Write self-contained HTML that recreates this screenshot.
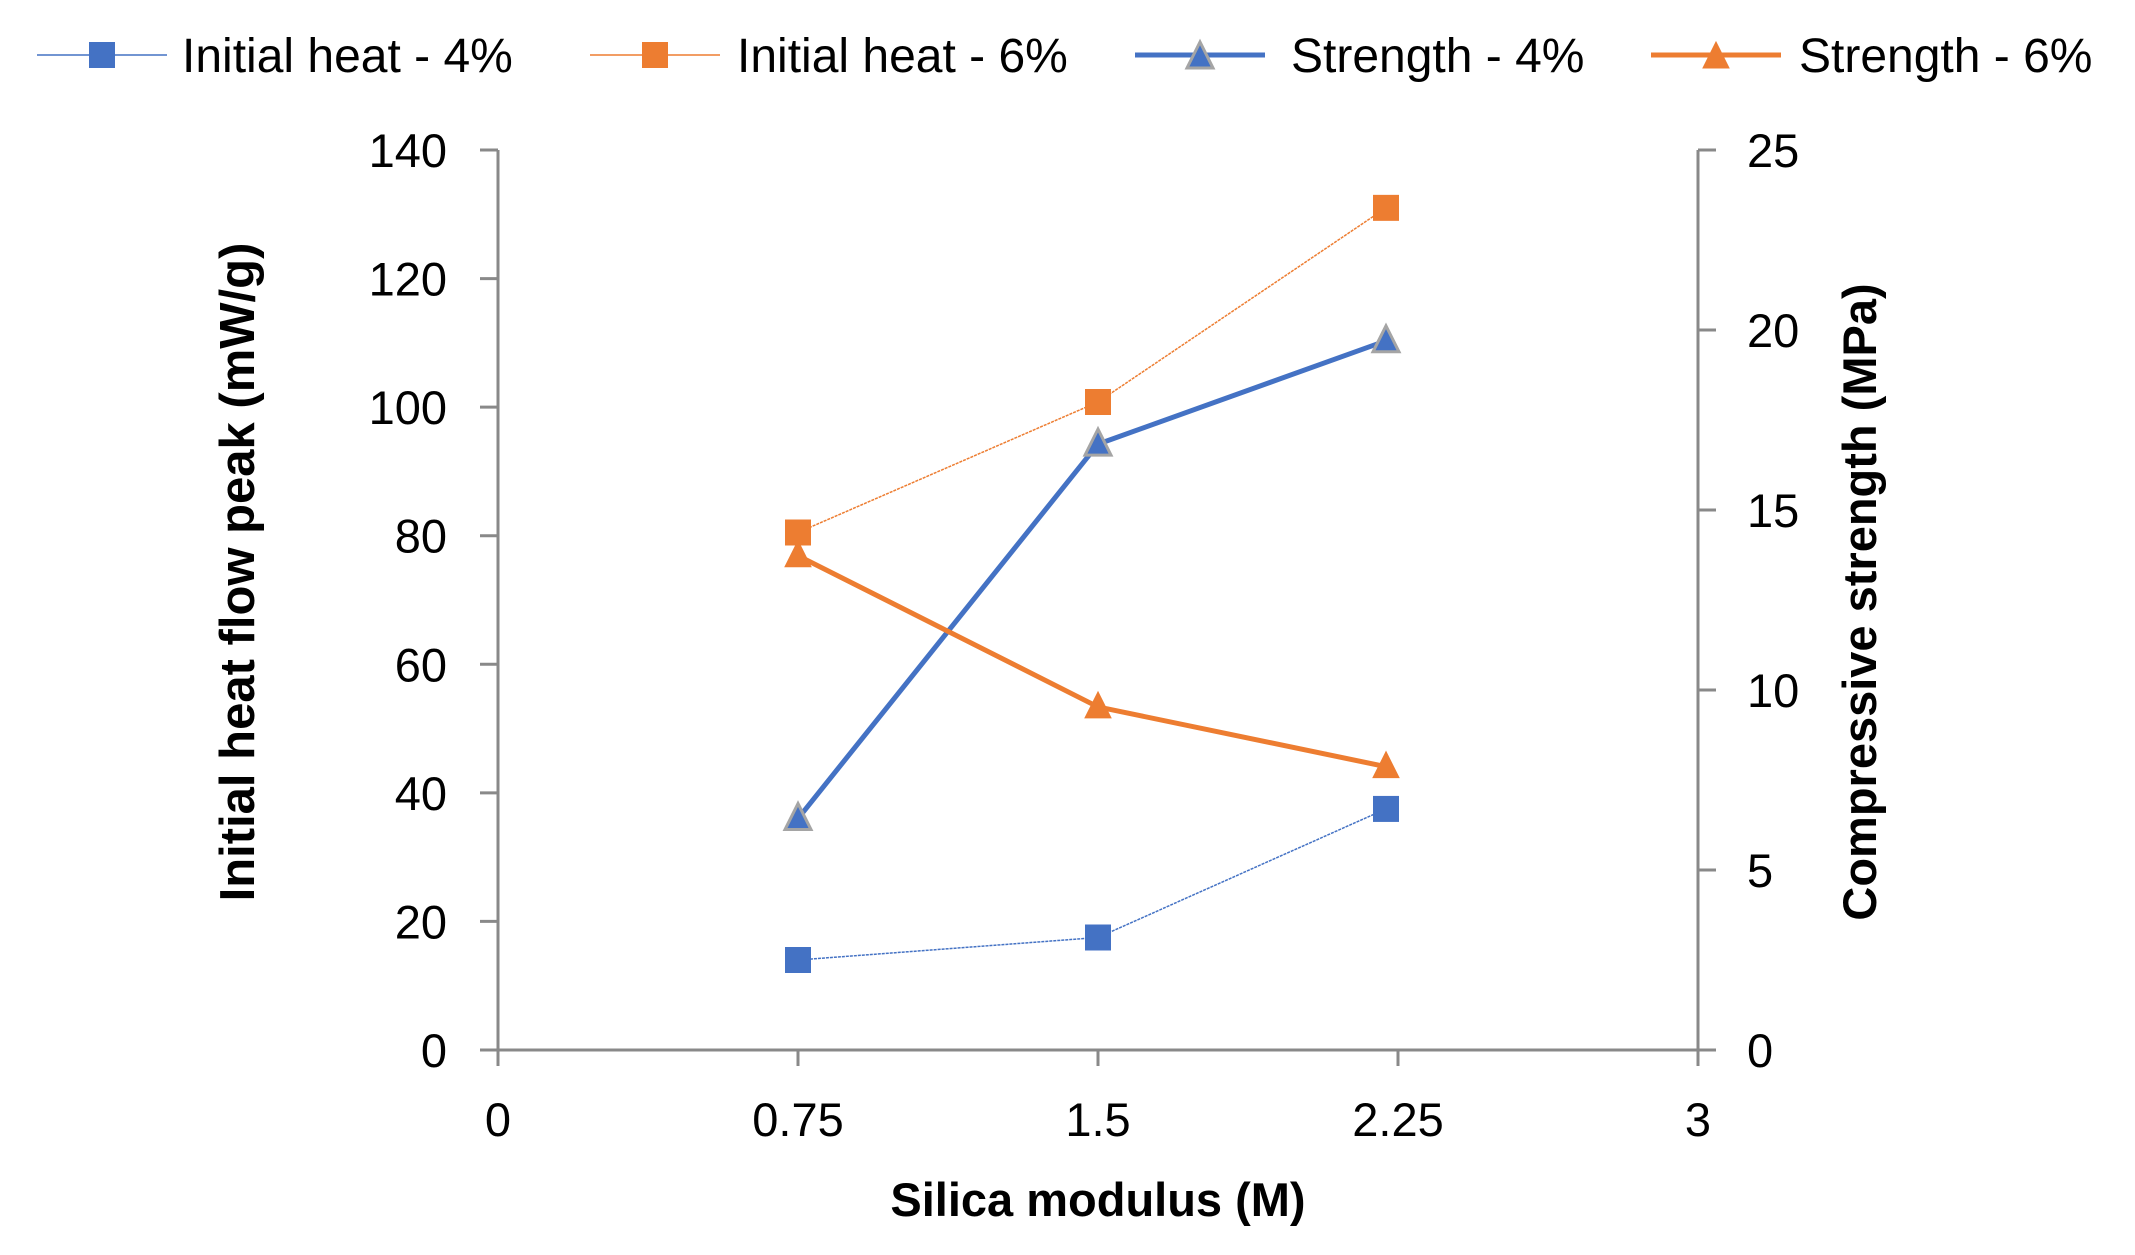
<!DOCTYPE html>
<html><head><meta charset="utf-8"><style>
html,body{margin:0;padding:0;background:#fff;}
svg{display:block;font-family:"Liberation Sans",sans-serif;}
</style></head><body>
<svg id="chart" width="2135" height="1255" viewBox="0 0 2135 1255" xmlns="http://www.w3.org/2000/svg">
<g id="axes"></g>
<g id="series"></g>
<g id="legend"></g>
<text x="1098" y="1216" text-anchor="middle" font-size="47" font-weight="bold">Silica modulus (M)</text>
<text transform="translate(254,572) rotate(-90)" text-anchor="middle" font-size="49" font-weight="bold">Initial heat flow peak (mW/g)</text>
<text transform="translate(1876,602) rotate(-90)" text-anchor="middle" font-size="47" font-weight="bold">Compressive strength (MPa)</text>
</svg>
<script>
const xTicks=[0,0.75,1.5,2.25,3];
const xTickLabels=["0","0.75","1.5","2.25","3"];
const yLeftTicks=[0,20,40,60,80,100,120,140];
const yRightTicks=[0,5,10,15,20,25];
const xVals=[0.75,1.5,2.22];
const heat4=[14,17.5,37.5];
const heat6=[80.5,100.8,131];
const str4=[6.43,16.83,19.7];
const str6=[13.73,9.53,7.87];
const L=498,R=1698,T=150,B=1050;
const NS="http://www.w3.org/2000/svg";
const xS=v=>L+(v-0)/3*(R-L);
const yL=v=>B-v/140*(B-T);
const yR=v=>B-v/25*(B-T);
function mk(tag,attrs,parent){const e=document.createElementNS(NS,tag);for(const k in attrs)e.setAttribute(k,attrs[k]);parent.appendChild(e);return e;}
const ax=document.getElementById('axes');
const grey="#898989";
let e;
e=mk('line',{x1:L,y1:T,x2:L,y2:B,stroke:grey,'stroke-width':3},ax);


e=mk('line',{x1:R,y1:T,x2:R,y2:B,stroke:grey,'stroke-width':3},ax);


e=mk('line',{x1:L-18,y1:B,x2:R+18,y2:B,stroke:grey,'stroke-width':3},ax);


yLeftTicks.forEach(v=>{
 const y=yL(v);
 e=mk('line',{x1:L-18,y1:y,x2:L,y2:y,stroke:grey,'stroke-width':3},ax);
 
 
 e=mk('text',{x:447,y:y+17,'text-anchor':'end','font-size':47},ax);e.textContent=v;
 
 
});
yRightTicks.forEach(v=>{
 const y=yR(v);
 e=mk('line',{x1:R,y1:y,x2:R+18,y2:y,stroke:grey,'stroke-width':3},ax);
 
 
 e=mk('text',{x:1747,y:y+17,'text-anchor':'start','font-size':47},ax);e.textContent=v;
 
 
});
xTicks.forEach((v,i)=>{
 const x=xS(v);
 e=mk('line',{x1:x,y1:B,x2:x,y2:B+16,stroke:grey,'stroke-width':3},ax);
 
 
 e=mk('text',{x:x,y:1136,'text-anchor':'middle','font-size':47},ax);e.textContent=xTickLabels[i];
 
 
});
const blue="#4472C4",orange="#ED7D31";
const sg=document.getElementById('series');
function square(g,x,y,c){return mk('rect',{x:x-13,y:y-13,width:26,height:26,fill:c},g);}
function tri(g,x,y,c,s){return mk('polygon',{points:`${x},${y-15} ${x-13},${y+11} ${x+13},${y+11}`,fill:c,stroke:s||c,'stroke-width':s?3:1},g);}
function series(name,vals,yf,color,w,marker,stroke){
 const g=mk('g',{},sg);
 
 
 const pts=vals.map((v,i)=>xS(xVals[i])+','+yf(v)).join(' ');
 e=mk('polyline',{points:pts,fill:'none',stroke:color,'stroke-width':w,'stroke-dasharray':w<3?'3 1':'none'},g);
 
 
 vals.forEach((v,i)=>{
  const m=marker==='sq'?square(g,xS(xVals[i]),yf(v),color):tri(g,xS(xVals[i]),yf(v),color,stroke);
  
  
 });
}
series('initial-heat-4',heat4,yL,blue,1.5,'sq');
series('initial-heat-6',heat6,yL,orange,1.5,'sq');
series('strength-4',str4,yR,blue,5,'tri','#A5A5A5');
series('strength-6',str6,yR,orange,5,'tri');
const lg=document.getElementById('legend');
const legItems=[["Initial heat - 4%",blue,'sq',1.5,null,102,182],["Initial heat - 6%",orange,'sq',1.5,null,655,737],["Strength - 4%",blue,'tri',5,'#A5A5A5',1200,1291],["Strength - 6%",orange,'tri',5,null,1716,1799]];
legItems.forEach(it=>{
 const g=mk('g',{},lg);
 
 
 mk('line',{x1:it[5]-65,y1:55,x2:it[5]+65,y2:55,stroke:it[1],'stroke-width':it[3]},g);
 if(it[2]==='sq')square(g,it[5],55,it[1]);else tri(g,it[5],57,it[1],it[4]);
 e=mk('text',{x:it[6],y:72,'font-size':48},g);e.textContent=it[0];
 
 
});
</script>
</body></html>
